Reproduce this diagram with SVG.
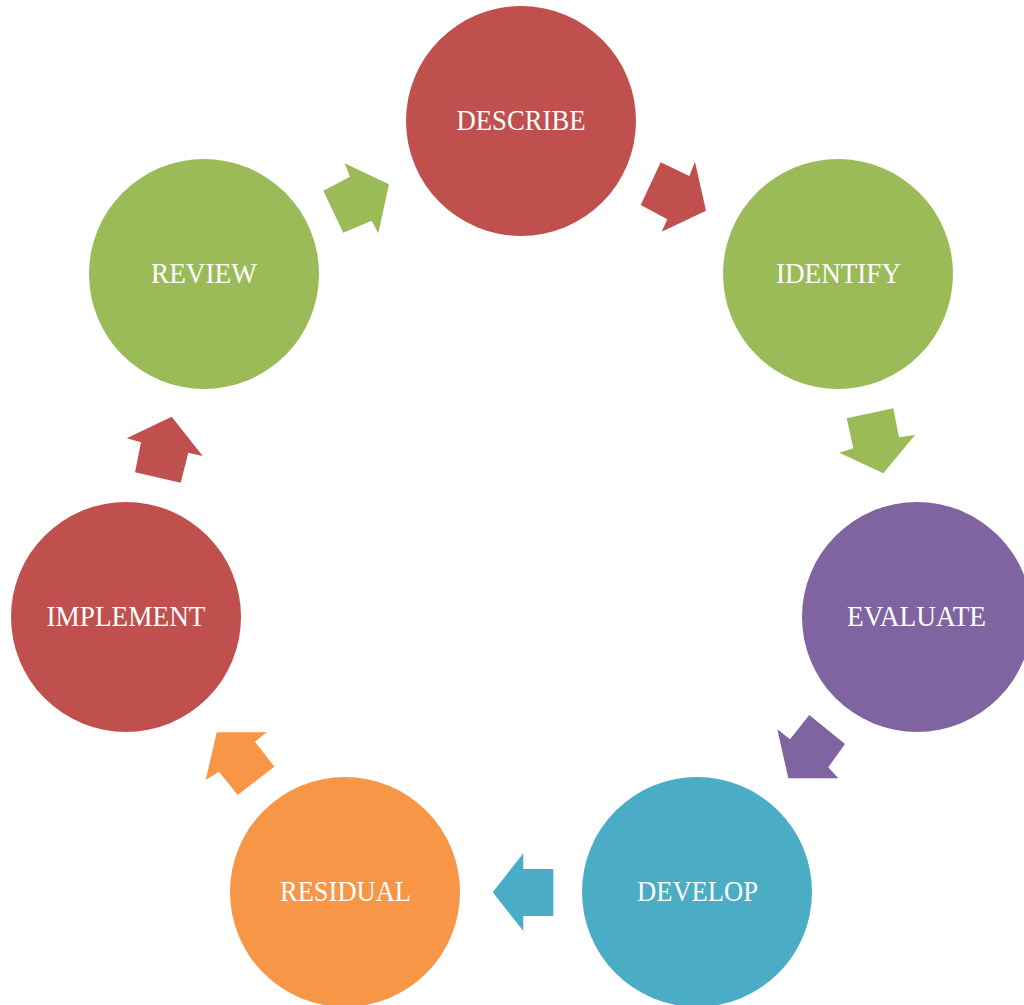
<svg xmlns="http://www.w3.org/2000/svg" width="1024" height="1005" viewBox="0 0 1024 1005">
<style>
.lbl{font-family:"Liberation Serif","Times New Roman",serif;font-size:29px;fill:#ffffff;text-anchor:middle}
.red{fill:#C0504D}.green{fill:#9BBB59}.purple{fill:#8064A2}.blue{fill:#4BACC6}.orange{fill:#F79646}
</style>
<rect width="1024" height="1005" fill="#ffffff"/>
<g id="connectors">
<polygon class="green" points="323.3,190.7 350,176.7 344.7,163.3 389,184.3 378.3,233.3 371.7,220.7 343.3,232.7"/>
<polygon class="red" points="660.7,162.3 689.3,176 695,161.7 706,210.7 661.7,231.7 667.3,219.3 640.7,205"/>
<polygon class="green" points="846.7,418.3 893.3,408.3 899,437.3 915,435 883.3,473.3 839.3,452.7 853.3,448.3"/>
<polygon class="purple" points="809.3,715 845,744 828.3,767.3 838.3,778.3 788.3,778.3 777.3,729.3 790,739.3"/>
<polygon class="blue" points="492.7,892.3 523.3,853.3 523.3,869 553.3,869 553.3,916 523.3,916 523.3,931"/>
<polygon class="orange" points="216.7,732.3 266.7,732.3 255,741.7 274.3,766.7 237.7,795 219,771.7 205.7,780"/>
<polygon class="red" points="171.7,416.7 202.7,456 188.3,452.7 180.7,482.7 135,472.3 141,442.3 126.7,438.3"/>
</g>
<g id="describe"><circle class="red" cx="521" cy="121" r="115"/><text class="lbl" x="521" y="130" textLength="129" lengthAdjust="spacingAndGlyphs">DESCRIBE</text></g>
<g id="identify"><circle class="green" cx="838" cy="274" r="115"/><text class="lbl" x="838.5" y="283" textLength="125" lengthAdjust="spacingAndGlyphs">IDENTIFY</text></g>
<g id="evaluate"><circle class="purple" cx="917" cy="617" r="115"/><text class="lbl" x="916.5" y="626" textLength="139" lengthAdjust="spacingAndGlyphs">EVALUATE</text></g>
<g id="develop"><circle class="blue" cx="697" cy="892" r="115"/><text class="lbl" x="697.5" y="901" textLength="121" lengthAdjust="spacingAndGlyphs">DEVELOP</text></g>
<g id="residual"><circle class="orange" cx="345" cy="892" r="115"/><text class="lbl" x="345.5" y="901" textLength="131" lengthAdjust="spacingAndGlyphs">RESIDUAL</text></g>
<g id="implement"><circle class="red" cx="126" cy="617" r="115"/><text class="lbl" x="126" y="626" textLength="159" lengthAdjust="spacingAndGlyphs">IMPLEMENT</text></g>
<g id="review"><circle class="green" cx="204" cy="274" r="115"/><text class="lbl" x="204" y="283" textLength="106" lengthAdjust="spacingAndGlyphs">REVIEW</text></g>
</svg>
